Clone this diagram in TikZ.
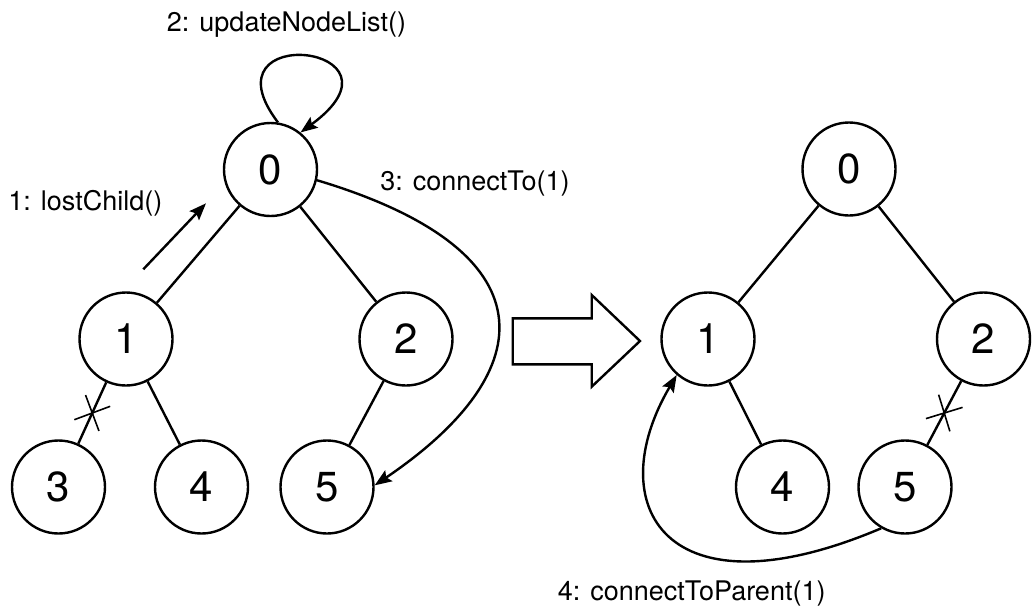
\documentclass[tikz,border=0pt]{standalone}
\usepackage{fontspec}
\setmainfont{TeX Gyre Heros}
\usetikzlibrary{arrows.meta,shapes.misc,calc}
\begin{document}
\begin{tikzpicture}[x=1pt,y=-1pt,
  tnode/.style={circle,draw,line width=2.4pt,minimum size=93pt,inner sep=0pt,font=\fontsize{42}{46}\selectfont},
  edge/.style={line width=2.4pt},
  arr/.style={line width=2.4pt,-{Stealth[length=17pt,width=13pt,inset=3pt]}},
  lbl/.style={anchor=base,inner sep=0pt,font=\fontsize{27}{31}\selectfont},
  cutmark/.style={cross out,draw,line width=1.6pt,minimum size=25.5pt,inner sep=0pt,sloped}
]
\useasboundingbox (0,0) rectangle (1033,608);
% left tree
\node[tnode] (L0) at (270.5,169.5) {0};
\node[tnode] (L1) at (126,339) {1};
\node[tnode] (L2) at (406,339) {2};
\node[tnode] (L3) at (58.5,487) {3};
\node[tnode] (L4) at (201.5,487) {4};
\node[tnode] (L5) at (327,487) {5};
\draw[edge] (L0) -- (L1);
\draw[edge] (L0) -- (L2);
\draw[edge] (L1) -- (L3) node[midway,cutmark] (X1) {};
\draw[edge] (L1) -- (L4);
\draw[edge] (L2) -- (L5);
% right tree
\node[tnode] (R0) at (849,169) {0};
\node[tnode] (R1) at (708,339) {1};
\node[tnode] (R2) at (983.5,339) {2};
\node[tnode] (R4) at (782.5,487) {4};
\node[tnode] (R5) at (905,487) {5};
\draw[edge] (R0) -- (R1);
\draw[edge] (R0) -- (R2);
\draw[edge] (R1) -- (R4);
\draw[edge] (R2) -- (R5) node[midway,cutmark] (X2) {};
% messages
\coordinate (lcA) at (143.3,269.3);
\coordinate (lcB) at (206,203.3);
\draw[arr] (lcA) -- (lcB);
\node[lbl] (t1) at (85.3,210.7) {1: lostChild()};
\draw[arr] (L0.81) .. controls (200,20) and (420,45) .. (L0.51);
\node[lbl] (t2) at (286.5,31.7) {2: updateNodeList()};
\draw[arr] (L0.-13) .. controls (550,250) and (545,370) .. (L5.2);
\node[lbl] (t3) at (475,190.7) {3: connectTo(1)};
\draw[arr] (R5.240) .. controls (665,620) and (600,505) .. (R1.229);
\node[lbl] (t4) at (691.7,600.7) {4: connectToParent(1)};
% big hollow arrow
\draw[line width=2.4pt,line join=miter] (512.7,318.3) -- (591.7,318.3) -- (591.7,295) -- (640,341) -- (591.7,386.7) -- (591.7,364.3) -- (512.7,364.3) -- cycle;
\end{tikzpicture}
\end{document}
